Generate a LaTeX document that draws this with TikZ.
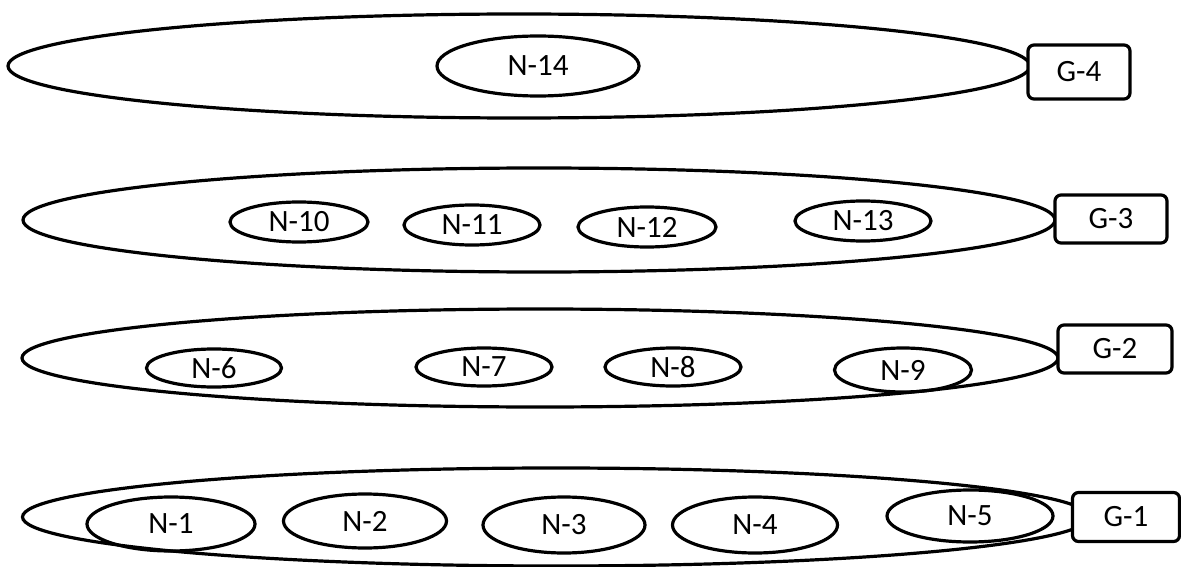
\documentclass[tikz,border=0pt]{standalone}
\usepackage{fontspec}
\setmainfont{Carlito}
\usetikzlibrary{shapes.geometric}
\begin{document}
\begin{tikzpicture}[x=1pt,y=-1pt,
  group/.style={ellipse, draw, line width=3.2pt, inner sep=0pt},
  member/.style={ellipse, draw, line width=3.2pt, inner sep=0pt,
    font=\fontsize{31}{33}\selectfont},
  tag/.style={draw, fill=white, rounded corners=6pt, line width=3.2pt,
    inner sep=0pt, font=\fontsize{31}{33}\selectfont}]
\useasboundingbox (0,0) rectangle (1181,567);

% group 4
\node[group, minimum width=1022pt, minimum height=104pt] (g4) at (519,66) {};
\node[member, minimum width=202pt, minimum height=60pt] (n14) at (538,66) {N-14};
\node[tag, minimum width=102pt, minimum height=54pt] (t4) at (1079,72) {G-4};

% group 3
\node[group, minimum width=1032pt, minimum height=104pt] (g3) at (539,220) {};
\node[member, minimum width=138pt, minimum height=40pt] (n10) at (299,222) {N-10};
\node[member, minimum width=136pt, minimum height=40pt] (n11) at (472,225) {N-11};
\node[member, minimum width=138pt, minimum height=40pt] (n12) at (647,227) {N-12};
\node[member, minimum width=136pt, minimum height=40pt] (n13) at (863,221) {N-13};
\node[tag, minimum width=112pt, minimum height=48pt] (t3) at (1111,219) {G-3};

% group 2
\node[group, minimum width=1036pt, minimum height=98pt] (g2) at (540,358) {};
\node[member, minimum width=135pt, minimum height=38pt] (n6) at (214,368) {N-6};
\node[member, minimum width=136pt, minimum height=38pt] (n7) at (484,367) {N-7};
\node[member, minimum width=136pt, minimum height=38pt] (n8) at (673,367) {N-8};
\node[member, minimum width=137pt, minimum height=44pt] (n9) at (903,370) {N-9};
\node[tag, minimum width=114pt, minimum height=48pt] (t2) at (1115,349) {G-2};

% group 1
\node[group, minimum width=1067pt, minimum height=98pt] (g1) at (556,517) {};
\node[member, minimum width=168pt, minimum height=54pt] (n1) at (171,524) {N-1};
\node[member, minimum width=163pt, minimum height=54pt] (n2) at (365,521) {N-2};
\node[member, minimum width=162pt, minimum height=56pt] (n3) at (564,525) {N-3};
\node[member, minimum width=165pt, minimum height=56pt] (n4) at (755,525) {N-4};
\node[member, minimum width=166pt, minimum height=52pt] (n5) at (970,516) {N-5};
\node[tag, minimum width=107pt, minimum height=49pt] (t1) at (1126,517) {G-1};
\end{tikzpicture}
\end{document}
